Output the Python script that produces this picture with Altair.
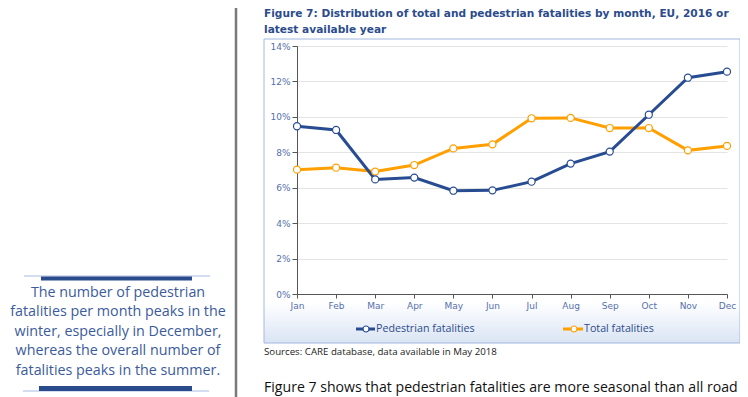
import altair as alt
import pandas as pd

# ---- data ----
months = ["Jan", "Feb", "Mar", "Apr", "May", "Jun", "Jul", "Aug", "Sep", "Oct", "Nov", "Dec"]
pedestrian = [9.47, 9.26, 6.47, 6.57, 5.83, 5.85, 6.34, 7.36, 8.04, 10.12, 12.21, 12.55]
total = [7.02, 7.13, 6.91, 7.28, 8.22, 8.45, 9.92, 9.94, 9.37, 9.37, 8.11, 8.36]
series_names = ["Pedestrian fatalities", "Total fatalities"]
y_ticks = [0, 2, 4, 6, 8, 10, 12, 14]

title_lines = ["Figure 7: Distribution of total and pedestrian fatalities by month, EU, 2016 or",
               "latest available year"]
source_text = "Sources: CARE database, data available in May 2018"
body_text = "Figure 7 shows that pedestrian fatalities are more seasonal than all road"
side_lines = ["The number of pedestrian",
              "fatalities per month peaks in the",
              "winter, especially in December,",
              "whereas the overall number of",
              "fatalities peaks in the summer."]

BLUE = "#284c92"
ORANGE = "#ffa000"
TEXTBLUE = "#2b4c8c"
LABELBLUE = "#5670ad"

df = pd.DataFrame({
    "month": months * 2,
    "value": pedestrian + total,
    "series": [series_names[0]] * 12 + [series_names[1]] * 12,
})
one = pd.DataFrame({"a": [0]})

x_enc = alt.X("month:N", sort=months,
              scale=alt.Scale(type="point", padding=0),
              axis=alt.Axis(title=None, labelAngle=0, grid=False, domainColor="#555555",
                            tickColor="#555555", tickSize=4, labelColor=LABELBLUE,
                            labelFontSize=9, labelFont="DejaVu Sans", labelPadding=3,
                            zindex=2))
y_enc = alt.Y("value:Q", scale=alt.Scale(domain=[0, 14], nice=False),
              axis=alt.Axis(title=None, values=y_ticks, labelExpr="datum.value + '%'",
                            grid=True, gridColor="#e4e4e4", domainColor="#555555",
                            tickColor="#555555", tickSize=5, labelColor=LABELBLUE,
                            labelFontSize=9, labelFont="DejaVu Sans", labelPadding=2))
color_enc = alt.Color("series:N", scale=alt.Scale(domain=series_names, range=[BLUE, ORANGE]),
                      legend=None)

base = alt.Chart(df).encode(x=x_enc, y=y_enc, color=color_enc)

# background gradient of legend strip and frame
grad = alt.LinearGradient(gradient="linear",
                          stops=[alt.GradientStop(color="#ffffff", offset=0),
                                 alt.GradientStop(color="#dae4f4", offset=1)],
                          x1=0, x2=0, y1=0, y2=1)
strip = alt.Chart(one).mark_rect(color=grad).encode(
    x=alt.value(-33), x2=alt.value(443), y=alt.value(256), y2=alt.value(297))
frame = alt.Chart(one).mark_rect(fill=None, filled=False, stroke="#a3b8df", strokeWidth=1).encode(
    x=alt.value(-33), x2=alt.value(443), y=alt.value(-7), y2=alt.value(297))

line_total = base.mark_line(strokeWidth=3).transform_filter(alt.datum.series == series_names[1])
line_ped = base.mark_line(strokeWidth=3).transform_filter(alt.datum.series == series_names[0])
pts_total = base.mark_point(filled=True, fill="white", size=50, strokeWidth=1.2, opacity=1).encode(
    stroke=color_enc).transform_filter(alt.datum.series == series_names[1])
pts_ped = base.mark_point(filled=True, fill="white", size=50, strokeWidth=1.2, opacity=1).encode(
    stroke=color_enc).transform_filter(alt.datum.series == series_names[0])

# legend (hand drawn)
leg_y = 283
leg_rule_p = alt.Chart(one).mark_rule(color=BLUE, strokeWidth=3).encode(
    x=alt.value(59), x2=alt.value(78), y=alt.value(leg_y))
leg_pt_p = alt.Chart(one).mark_point(filled=True, fill="white", stroke=BLUE, size=36, strokeWidth=1.2, opacity=1).encode(
    x=alt.value(69), y=alt.value(leg_y))
leg_txt_p = alt.Chart(one).mark_text(align="left", baseline="middle", fontSize=10.7, font="Open Sans",
                                     color=TEXTBLUE).encode(
    x=alt.value(79), y=alt.value(leg_y), text=alt.value(series_names[0]))
leg_rule_t = alt.Chart(one).mark_rule(color=ORANGE, strokeWidth=3).encode(
    x=alt.value(266), x2=alt.value(286), y=alt.value(leg_y))
leg_pt_t = alt.Chart(one).mark_point(filled=True, fill="white", stroke=ORANGE, size=36, strokeWidth=1.2, opacity=1).encode(
    x=alt.value(277), y=alt.value(leg_y))
leg_txt_t = alt.Chart(one).mark_text(align="left", baseline="middle", fontSize=10.7, font="Open Sans",
                                     color=TEXTBLUE).encode(
    x=alt.value(287), y=alt.value(leg_y), text=alt.value(series_names[1]))

# title
title = alt.Chart(one).mark_text(align="left", baseline="middle", fontSize=10.6, font="DejaVu Sans",
                                 fontWeight="bold", color=TEXTBLUE, lineHeight=15.5).encode(
    x=alt.value(-33), y=alt.value(-32), text=alt.value(title_lines))

source = alt.Chart(one).mark_text(align="left", baseline="middle", fontSize=9.7, font="Open Sans",
                                  color="#222222").encode(
    x=alt.value(-33), y=alt.value(306), text=alt.value(source_text))
body = alt.Chart(one).mark_text(align="left", baseline="middle", fontSize=14.1, font="Open Sans",
                                color="#111111").encode(
    x=alt.value(-33), y=alt.value(342), text=alt.value(body_text))

# left side panel
vline = alt.Chart(one).mark_rule(color="#7a7a7a", strokeWidth=2.5).encode(
    x=alt.value(-61), y=alt.value(-50), y2=alt.value(360))
side_txt = alt.Chart(one).mark_text(align="center", baseline="middle", fontSize=14.3, font="Open Sans",
                                    color="#3b5b9c", lineHeight=19.4).encode(
    x=alt.value(-179), y=alt.value(247), text=alt.value(side_lines))
thin1 = alt.Chart(one).mark_rule(color="#a9bce0", strokeWidth=1).encode(
    x=alt.value(-273), x2=alt.value(-87), y=alt.value(230))
thick1 = alt.Chart(one).mark_rule(color=TEXTBLUE, strokeWidth=4).encode(
    x=alt.value(-256), x2=alt.value(-105), y=alt.value(232.5))
thin2 = alt.Chart(one).mark_rule(color="#a9bce0", strokeWidth=1).encode(
    x=alt.value(-274), x2=alt.value(-88), y=alt.value(345))
thick2 = alt.Chart(one).mark_rule(color=TEXTBLUE, strokeWidth=5).encode(
    x=alt.value(-258), x2=alt.value(-105), y=alt.value(342.5))

chart = alt.layer(
    strip, frame,
    line_total, line_ped, pts_total, pts_ped,
    leg_rule_p, leg_pt_p, leg_txt_p, leg_rule_t, leg_pt_t, leg_txt_t,
    title, source, body, vline, side_txt, thin1, thick1, thin2, thick2,
).properties(
    width=430, height=248,
    autosize=alt.AutoSizeParams(type="none"),
    padding={"left": 289, "top": 38, "right": 13, "bottom": 103},
).configure_view(stroke=None)

chart.save("out.html", embed_options={"renderer": "svg", "actions": False})
